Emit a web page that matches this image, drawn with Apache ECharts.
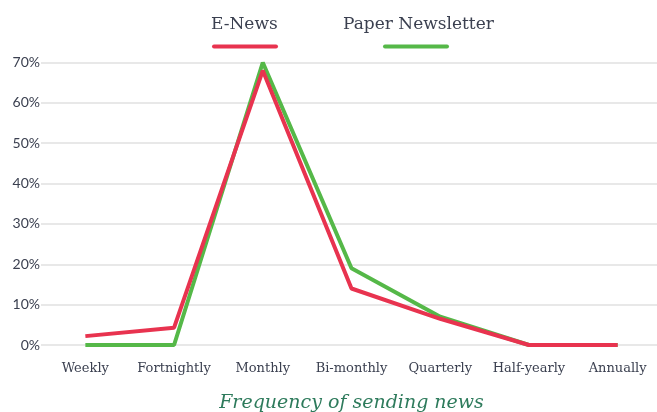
<!DOCTYPE html>
<html>
<head>
<meta charset="utf-8">
<script src="https://cdn.jsdelivr.net/npm/echarts@6/dist/echarts.min.js"></script>
<style>
  html, body { margin: 0; padding: 0; background: #fff; }
  #chart { width: 657px; height: 412px; }
</style>
</head>
<body>
<div id="chart"></div>
<script>
const categories = ['Weekly', 'Fortnightly', 'Monthly', 'Bi-monthly', 'Quarterly', 'Half-yearly', 'Annually']
const eNews = [2.2, 4.3, 68, 14, 6.5, 0, 0]
const paperNewsletter = [0, 0, 70, 19, 7, 0, 0]
const yTicks = [0, 10, 20, 30, 40, 50, 60, 70]

const RED = '#e8334f'
const GREEN = '#55b848'
const TEXT = '#3b4050'

const chart = echarts.init(document.getElementById('chart'))

chart.setOption({
  animation: false,
  backgroundColor: '#fff',
  legend: {
    left: 206,
    top: 16,
    padding: 0,
    itemGap: 60,
    itemWidth: 0,
    itemHeight: 14,
    icon: 'rect',
    data: ['E-News', 'Paper Newsletter'],
    formatter: function (name) {
      if (name === 'E-News') {
        return '{t|E-News}\n{pa|}{ua|}'
      }
      return '{t|Paper Newsletter}\n{pb|}{ub|}'
    },
    textStyle: {
      rich: {
        t: { fontFamily: 'DejaVu Serif', fontSize: 17, color: TEXT, lineHeight: 30 },
        pa: { width: 1, height: 4, lineHeight: 14 },
        ua: { width: 66, height: 4, lineHeight: 14, backgroundColor: RED, borderRadius: 2 },
        pb: { width: 40, height: 4, lineHeight: 14 },
        ub: { width: 66, height: 4, lineHeight: 14, backgroundColor: GREEN, borderRadius: 2 }
      }
    }
  },
  grid: {
    left: 41,
    width: 621,
    top: 62.5,
    bottom: 67,
    containLabel: false,
    outerBoundsMode: 'none'
  },
  xAxis: {
    type: 'category',
    data: categories,
    boundaryGap: true,
    axisLine: { show: false },
    axisTick: { show: false },
    axisLabel: {
      margin: 17,
      fontFamily: 'DejaVu Serif',
      fontSize: 13,
      color: TEXT,
      interval: 0
    },
    name: 'Frequency of sending news',
    nameLocation: 'middle',
    nameGap: 49,
    nameTextStyle: {
      fontFamily: 'DejaVu Serif',
      fontStyle: 'italic',
      fontSize: 19,
      color: '#2e7b5c'
    }
  },
  yAxis: {
    type: 'value',
    min: yTicks[0],
    max: yTicks[yTicks.length - 1],
    interval: 10,
    axisLine: { show: false },
    axisTick: { show: false },
    axisLabel: {
      margin: 1,
      fontFamily: 'Lato',
      fontSize: 14,
      color: TEXT,
      formatter: '{value}%'
    },
    splitLine: {
      lineStyle: { color: '#e0e0e0', width: 1.5 }
    }
  },
  series: [
    {
      name: 'Paper Newsletter',
      type: 'line',
      data: paperNewsletter,
      symbol: 'none',
      z: 2,
      itemStyle: { color: GREEN },
      lineStyle: { color: GREEN, width: 4 }
    },
    {
      name: 'E-News',
      type: 'line',
      data: eNews,
      symbol: 'none',
      z: 3,
      itemStyle: { color: RED },
      lineStyle: { color: RED, width: 4 }
    }
  ]
})
</script>
</body>
</html>
